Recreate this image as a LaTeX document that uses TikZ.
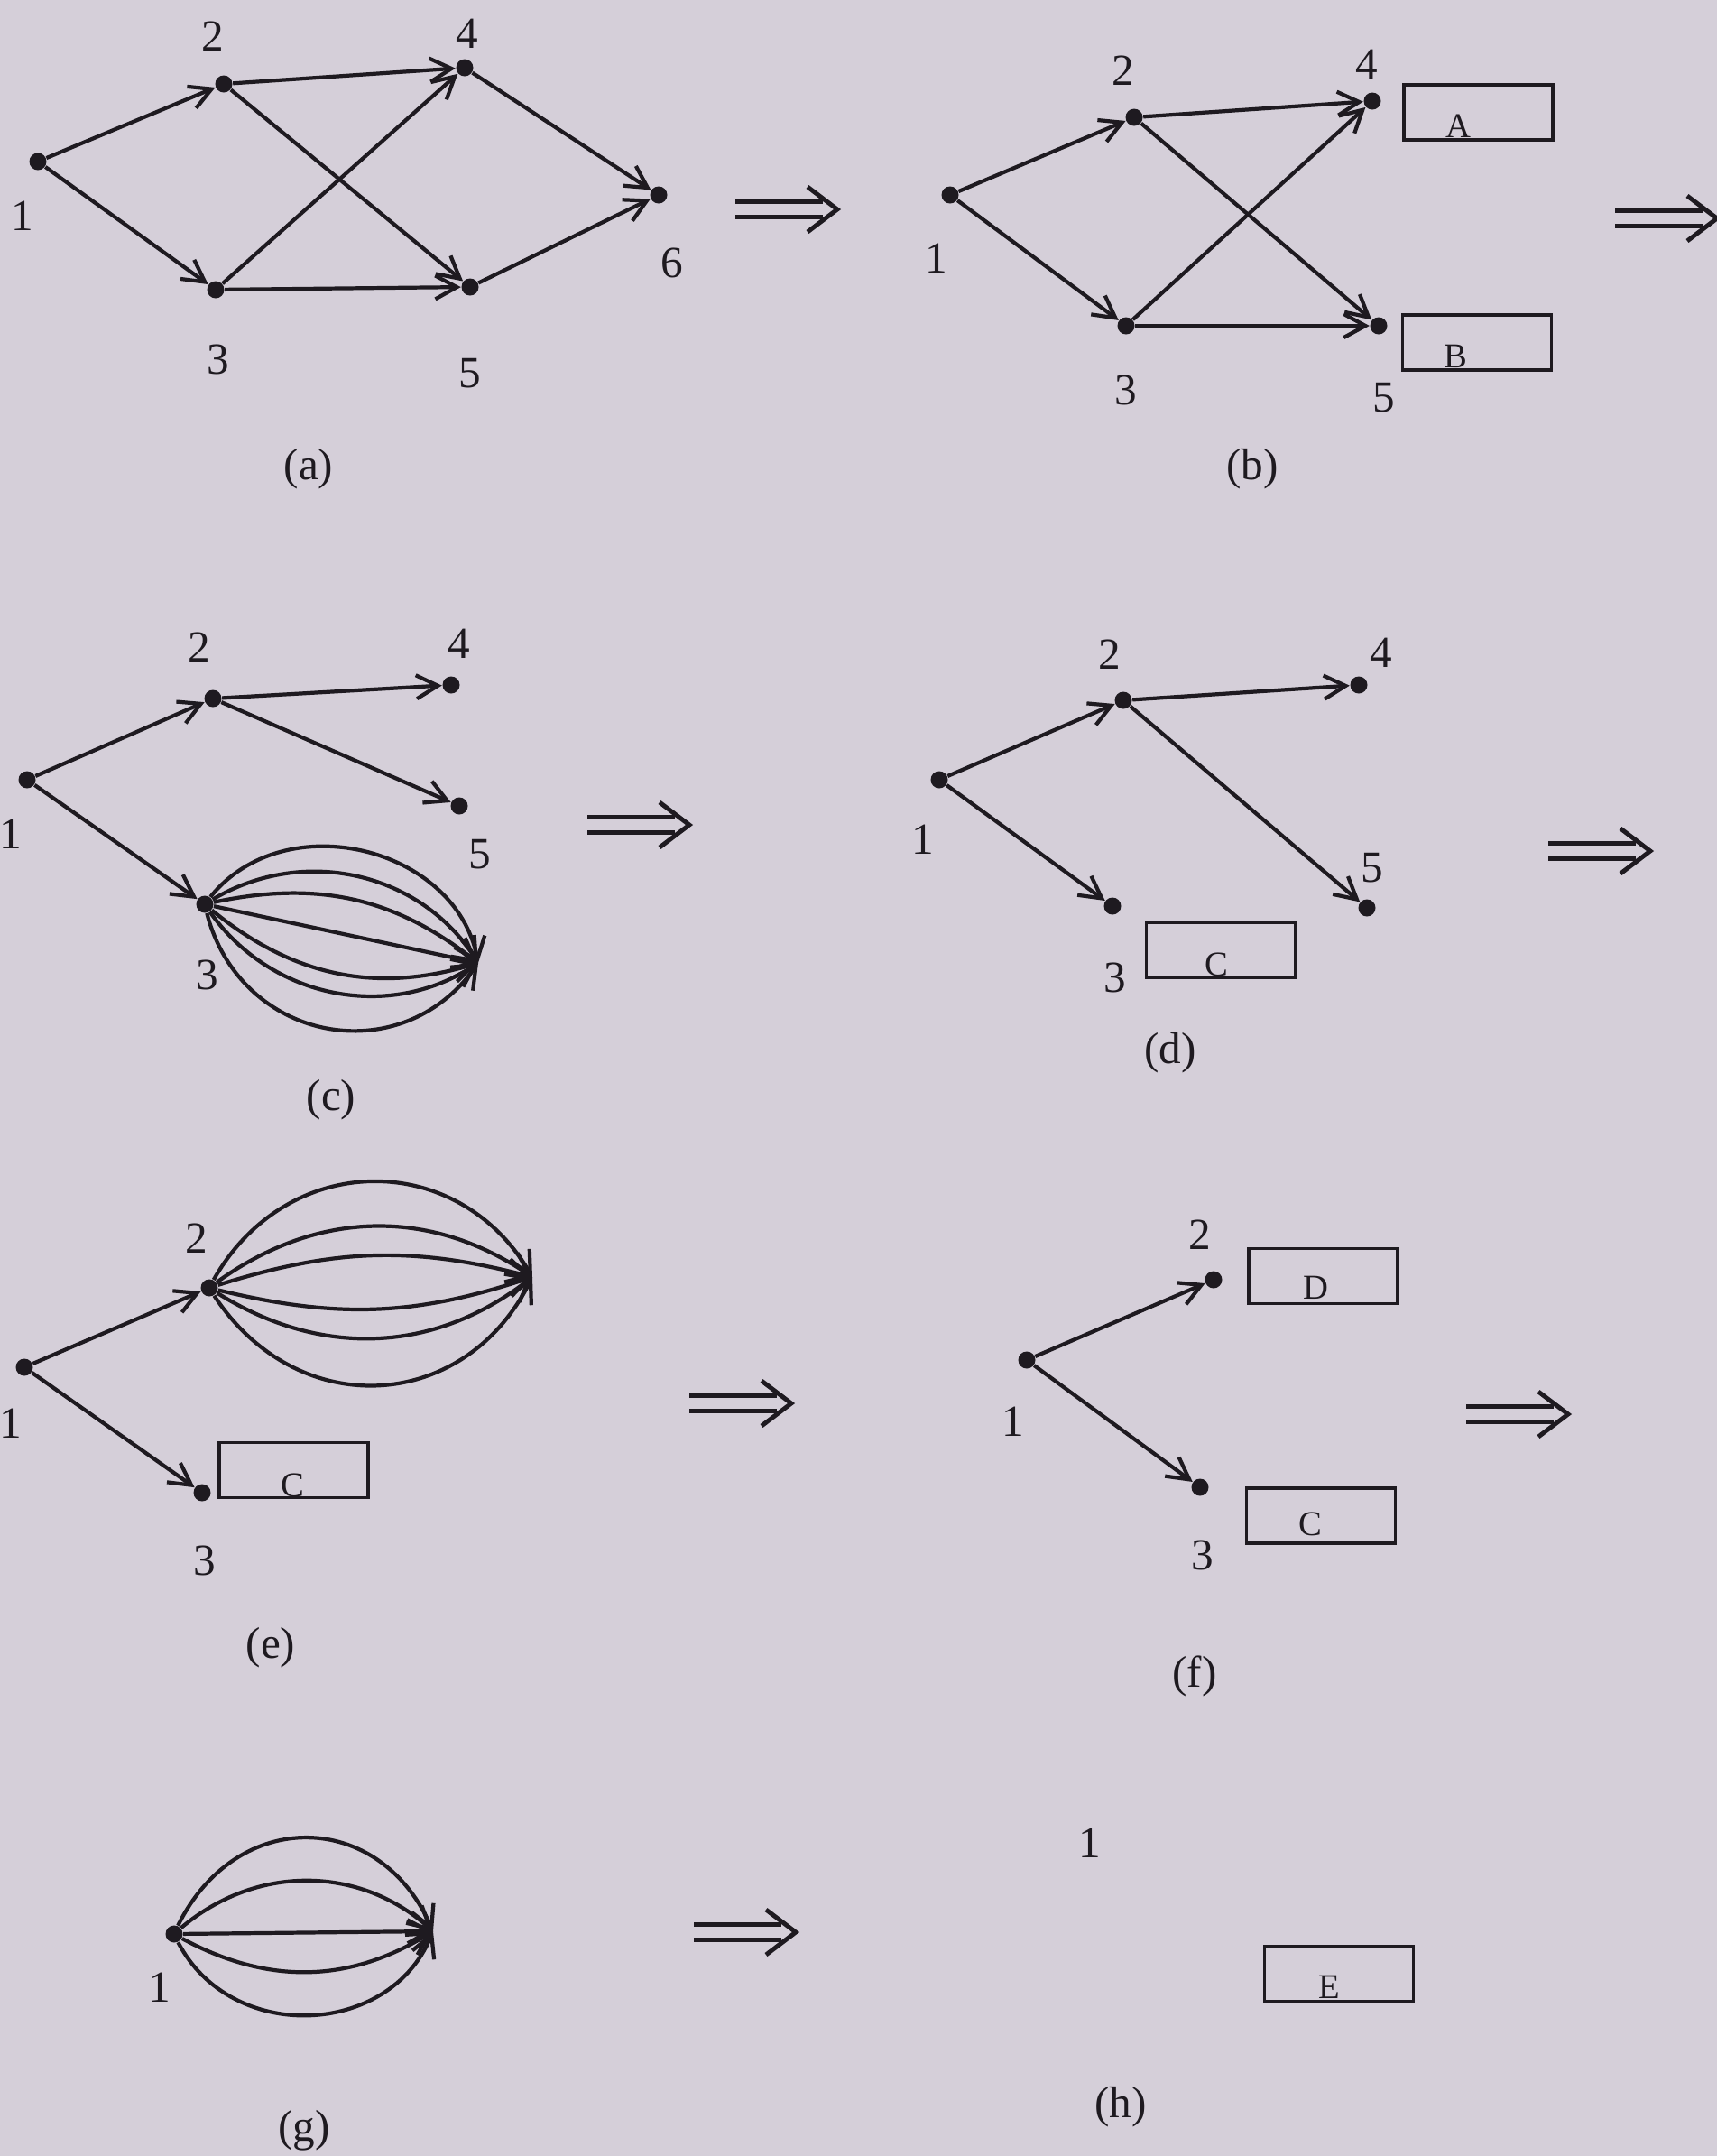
\documentclass[tikz,border=0pt]{standalone}
\usepackage{fontspec}
\setmainfont{Liberation Serif}
\usepackage{tikz}
\usetikzlibrary{arrows.meta, positioning}
\definecolor{paper}{RGB}{213,207,217}
\definecolor{ink}{RGB}{30,26,32}

\tikzset{
  pics/dbl/.style={code={
    \draw[ink, line width=1.4pt] (0,0.085) -- (0.97,0.085) (0,-0.085) -- (0.97,-0.085);
    \draw[ink, line width=1.4pt, line join=miter] (0.80,0.25) -- (1.13,0) -- (0.80,-0.25);
  }}
}

\begin{document}
\begin{tikzpicture}[
  dot/.style={circle, fill=ink, inner sep=0pt, minimum size=0.19cm},
  num/.style={font=\fontsize{14}{16}\selectfont, text=ink, inner sep=0pt},
  box/.style={rectangle, draw=ink, line width=1.1pt, minimum width=1.65cm, minimum height=0.61cm, inner sep=0pt},
  boxtxt/.style={font=\fontsize{11}{13}\selectfont, text=ink, inner sep=0pt},
  arc/.style={draw=ink, line width=1.2pt, -{Straight Barb[length=2.4mm, width=2.6mm]}}
]

% Page
\fill[paper] (0,0) rectangle (19.03,-23.89);
\useasboundingbox (0,0) rectangle (19.03,-23.89);

% (a) full network
\node[dot] (a1) at (0.42,-1.79) {};
\node[dot] (a2) at (2.48,-0.93) {};
\node[dot] (a3) at (2.39,-3.21) {};
\node[dot] (a4) at (5.15,-0.75) {};
\node[dot] (a5) at (5.21,-3.18) {};
\node[dot] (a6) at (7.30,-2.16) {};
\node[num] (la1) at (0.25,-2.39) {1};
\node[num] (la2) at (2.36,-0.40) {2};
\node[num] (la3) at (2.42,-3.98) {3};
\node[num] (la4) at (5.18,-0.37) {4};
\node[num] (la5) at (5.21,-4.14) {5};
\node[num] (la6) at (7.45,-2.91) {6};
\node[num] (capa) at (3.42,-5.20) {(a)};
\foreach \s/\t in {1/2,1/3,2/4,2/5,3/4,3/5,4/6,5/6}
  \draw[arc] (a\s) -- (a\t);
\pic (ta) at (8.15,-2.32) {dbl};

% (b) sink removed
\node[dot] (b1) at (10.53,-2.16) {};
\node[dot] (b2) at (12.57,-1.30) {};
\node[dot] (b3) at (12.48,-3.61) {};
\node[dot] (b4) at (15.21,-1.12) {};
\node[dot] (b5) at (15.28,-3.61) {};
\node[box] (boxA) at (16.385,-1.245) {};
\node[boxtxt] (txA) at (16.16,-1.40) {A};
\node[box] (boxB) at (16.37,-3.795) {};
\node[boxtxt] (txB) at (16.13,-3.95) {B};
\node[num] (lb1) at (10.38,-2.86) {1};
\node[num] (lb2) at (12.45,-0.78) {2};
\node[num] (lb3) at (12.48,-4.32) {3};
\node[num] (lb4) at (15.15,-0.71) {4};
\node[num] (lb5) at (15.34,-4.41) {5};
\node[num] (capb) at (13.88,-5.20) {(b)};
\foreach \s/\t in {1/2,1/3,2/4,2/5,3/4,3/5}
  \draw[arc] (b\s) -- (b\t);
\pic (tb) at (17.90,-2.42) {dbl};

% (c) parallel arcs out of 3
\node[dot] (c1) at (0.30,-8.64) {};
\node[dot] (c2) at (2.36,-7.74) {};
\node[dot] (c3) at (2.27,-10.02) {};
\node[dot] (c4) at (5.00,-7.59) {};
\node[dot] (c5) at (5.09,-8.93) {};
\coordinate (c6) at (5.30,-10.67);
\node[num] (lc1) at (0.12,-9.24) {1};
\node[num] (lc2) at (2.21,-7.17) {2};
\node[num] (lc3) at (2.30,-10.80) {3};
\node[num] (lc4) at (5.09,-7.13) {4};
\node[num] (lc5) at (5.32,-9.47) {5};
\node[num] (capc) at (3.67,-12.19) {(c)};
\foreach \s/\t in {1/2,1/3,2/4,2/5}
  \draw[arc] (c\s) -- (c\t);
\foreach \b/\l in {65/1.1, 44/1, 25/1, 0/1, -28/1, -44/1, -65/1.24}
  \draw[arc] (c3) to[bend left=\b, looseness=\l] (c6);
\pic (tc) at (6.51,-9.14) {dbl};

% (d) node 3 collapsed
\node[dot] (d1) at (10.41,-8.64) {};
\node[dot] (d2) at (12.45,-7.76) {};
\node[dot] (d3) at (12.33,-10.04) {};
\node[dot] (d4) at (15.06,-7.59) {};
\node[dot] (d5) at (15.15,-10.06) {};
\node[box] (boxC1) at (13.53,-10.525) {};
\node[boxtxt] (txC1) at (13.48,-10.69) {C};
\node[num] (ld1) at (10.23,-9.30) {1};
\node[num] (ld2) at (12.30,-7.25) {2};
\node[num] (ld3) at (12.36,-10.83) {3};
\node[num] (ld4) at (15.31,-7.23) {4};
\node[num] (ld5) at (15.21,-9.62) {5};
\node[num] (capd) at (12.97,-11.67) {(d)};
\foreach \s/\t in {1/2,1/3,2/4,2/5}
  \draw[arc] (d\s) -- (d\t);
\pic (td) at (17.16,-9.43) {dbl};

% (e) parallel arcs out of 2
\node[dot] (e1) at (0.27,-15.15) {};
\node[dot] (e2) at (2.32,-14.27) {};
\node[dot] (e3) at (2.24,-16.54) {};
\coordinate (e4) at (5.90,-14.15);
\node[box] (boxC2) at (3.255,-16.29) {};
\node[boxtxt] (txC2) at (3.24,-16.46) {C};
\node[num] (le1) at (0.12,-15.77) {1};
\node[num] (le2) at (2.18,-13.72) {2};
\node[num] (le3) at (2.27,-17.29) {3};
\node[num] (cape) at (3.00,-18.26) {(e)};
\draw[arc] (e1) -- (e2);
\draw[arc] (e1) -- (e3);
\foreach \b/\l in {60/1.19, 35/1, 16/1, -16/1, -35/1, -60/1.22}
  \draw[arc] (e2) to[bend left=\b, looseness=\l] (e4);
\pic (te) at (7.64,-15.55) {dbl};

% (f) two boxes
\node[dot] (f1) at (11.38,-15.07) {};
\node[dot] (f2) at (13.45,-14.18) {};
\node[dot] (f3) at (13.30,-16.48) {};
\node[box] (boxD) at (14.665,-14.14) {};
\node[boxtxt] (txD) at (14.58,-14.27) {D};
\node[box] (boxC3) at (14.64,-16.795) {};
\node[boxtxt] (txC3) at (14.52,-16.89) {C};
\node[num] (lf1) at (11.23,-15.75) {1};
\node[num] (lf2) at (13.30,-13.68) {2};
\node[num] (lf3) at (13.33,-17.23) {3};
\node[num] (capf) at (13.24,-18.57) {(f)};
\draw[arc] (f1) -- (f2);
\draw[arc] (f1) -- (f3);
\pic (tf) at (16.25,-15.67) {dbl};

% (g) parallel arcs out of 1
\node[dot] (g1) at (1.93,-21.43) {};
\coordinate (g2) at (4.80,-21.40);
\node[num] (lg1) at (1.77,-22.02) {1};
\node[num] (capg) at (3.37,-23.61) {(g)};
\foreach \b/\l in {65/1.33, 41/1, 0/1, -30/1, -65/1.15}
  \draw[arc] (g1) to[bend left=\b, looseness=\l] (g2);
\pic (tg) at (7.69,-21.41) {dbl};

% (h) single box
\node[num] (lh1) at (12.08,-20.42) {1};
\node[box] (boxE) at (14.84,-21.87) {};
\node[boxtxt] (txE) at (14.73,-22.02) {E};
\node[num] (caph) at (12.42,-23.35) {(h)};

\end{tikzpicture}
\end{document}
